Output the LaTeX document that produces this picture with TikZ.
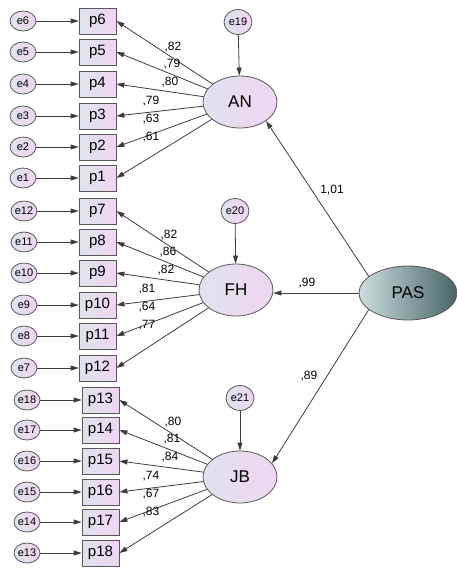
\documentclass[tikz,border=0pt]{standalone}
\usepackage{fontspec}
\setmainfont{Liberation Sans}
\usetikzlibrary{arrows.meta,calc,shapes.geometric}

\definecolor{lavl}{RGB}{224,226,238}
\definecolor{lavr}{RGB}{238,214,241}
\definecolor{pasl}{RGB}{204,222,222}
\definecolor{pasr}{RGB}{72,102,102}
\definecolor{edge}{RGB}{60,60,60}

\tikzset{
  arr/.style={draw=edge,line width=0.8pt,-{Triangle[length=8pt,width=5pt]}},
  errnode/.style={ellipse,draw=black!65,line width=0.8pt,left color=lavl,right color=lavr,
    inner sep=0pt,minimum width=26pt,minimum height=20pt,font=\fontsize{11}{11}\selectfont},
  disturb/.style={errnode,minimum width=28pt,minimum height=25pt},
  itembox/.style={rectangle,draw=black!65,line width=0.8pt,left color=lavl,right color=lavr,
    inner sep=0pt,minimum width=37pt,minimum height=26pt,font=\fontsize{15}{15}\selectfont},
  latent/.style={ellipse,draw=black!65,line width=0.8pt,left color=lavl,right color=lavr,
    inner sep=0pt,minimum width=74pt,minimum height=52pt,font=\fontsize{17}{17}\selectfont},
  lbl/.style={inner sep=0pt,font=\fontsize{12}{12}\selectfont}
}

\begin{document}
\begin{tikzpicture}[x=1pt,y=-1pt]
\useasboundingbox (0,0) rectangle (457,568);

%latent variables
\node[latent] (AN) at (240,102) {AN};
\node[latent] (FH) at (236,290) {FH};
\node[latent] (JB) at (240,477) {JB};
\node[latent,minimum width=98pt,minimum height=54pt,left color=pasl,right color=pasr] (PAS) at (408,293) {PAS};

%disturbances
\node[disturb] (e19) at (238,22)  {e19};
\node[disturb] (e20) at (235,211) {e20};
\node[disturb] (e21) at (240,398) {e21};
\draw[arr] (e19) -- (AN);
\draw[arr] (e20) -- (FH);
\draw[arr] (e21) -- (JB);

%items AN
\foreach \i/\y in {6/21,5/52,4/84,3/116,2/147,1/178}{
    \node[itembox] (p\i) at (97.5,\y) {p\i};
    \node[errnode] (e\i) at (23,\y) {e\i};
    \draw[arr] (e\i) -- (p\i);
}
\foreach \i/\v/\dx/\dy in {6/{,82}/-67/-55,5/{,79}/-68/-38,4/{,80}/-70/-20,
                           3/{,79}/-89/-1,2/{,63}/-89/17,1/{,61}/-89/35}{
    \draw[arr] (AN) -- (p\i.east);
    \node[lbl] at ($(AN)+(\dx,\dy)$) {\v};
}

%items FH
\foreach \i/\j/\y in {7/12/211,8/11/242,9/10/273,10/9/305,11/8/336,12/7/368}{
    \node[itembox] (p\i) at (97.5,\y) {p\i};
    \node[errnode] (e\j) at (24,\y) {e\j};
    \draw[arr] (e\j) -- (p\i);
}
\foreach \i/\v/\dx/\dy in {7/{,82}/-67/-55,8/{,86}/-68/-38,9/{,82}/-70/-20,
                           10/{,81}/-89/-1,11/{,64}/-89/17,12/{,77}/-89/35}{
    \draw[arr] (FH) -- (p\i.east);
    \node[lbl] at ($(FH)+(\dx,\dy)$) {\v};
}

%items JB
\foreach \i/\j/\y in {13/18/400,14/17/430,15/16/461,16/15/492,17/14/522,18/13/553}{
    \node[itembox] (p\i) at (100.5,\y) {p\i};
    \node[errnode] (e\j) at (27,\y) {e\j};
    \draw[arr] (e\j) -- (p\i);
}
\foreach \i/\v/\dx/\dy in {13/{,80}/-67/-55,14/{,81}/-68/-38,15/{,84}/-70/-20,
                           16/{,74}/-89/-1,17/{,67}/-89/17,18/{,83}/-89/35}{
    \draw[arr] (JB) -- (p\i.east);
    \node[lbl] at ($(JB)+(\dx,\dy)$) {\v};
}

%structural paths
\draw[arr] (PAS.157) -- (AN.-36);
\draw[arr] (PAS.west) -- (FH.east |- PAS.west);
\draw[arr] (PAS.203) -- (JB.23);
\node[lbl] (l1) at (332,190) {1,01};
\node[lbl] (l2) at (307,283) {,99};
\node[lbl] (l3) at (309,376) {,89};

\end{tikzpicture}
\end{document}
